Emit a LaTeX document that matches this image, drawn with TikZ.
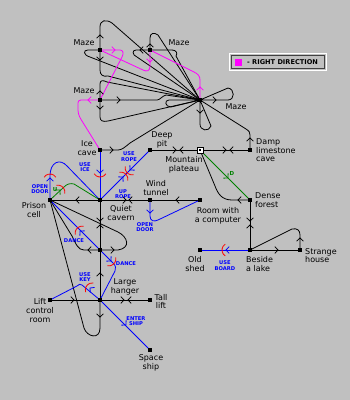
\documentclass[tikz,border=0pt]{standalone}
\usepackage{fontspec}
\setmainfont{DejaVu Sans}
\pgfdeclarelayer{bgl}
\pgfdeclarelayer{back}
\pgfsetlayers{bgl,back,main}
\definecolor{bg}{RGB}{192,192,192}
\definecolor{mag}{RGB}{255,0,255}
\definecolor{blu}{RGB}{0,0,255}
\definecolor{grn}{RGB}{0,128,0}
\definecolor{rd}{RGB}{255,0,0}
\tikzset{
  room/.style={rectangle,fill=black,draw=none,minimum size=3.2pt,inner sep=0pt,outer sep=0pt},
  mtnbox/.style={rectangle,fill=white,draw=black,line width=0.9pt,minimum size=6pt,inner sep=0pt,outer sep=0pt},
  lbl/.style={font=\fontsize{8}{8.6}\selectfont,align=center,inner sep=0pt,text=black},
  blbl/.style={font=\bfseries\fontsize{5.2}{5.6}\selectfont,align=center,inner sep=0pt,text=blu},
  glbl/.style={font=\bfseries\fontsize{5.5}{6}\selectfont,inner sep=0pt,text=grn},
  edge/.style={draw=black,line width=0.8pt},
  bedge/.style={draw=blu,line width=0.8pt},
  medge/.style={draw=mag,line width=0.8pt},
  gedge/.style={draw=grn,line width=0.8pt},
  chev/.pic={\draw[line width=0.8pt] (-3.2,-3.4) -- (0,0) -- (-3.2,3.4);},
  door/.pic={\draw[rd,line width=0.8pt] (-3,0) ++(-58:7) arc[start angle=-58,end angle=58,radius=7];}
}
\begin{document}
\begin{tikzpicture}[x=1pt,y=-1pt]
\begin{pgfonlayer}{bgl}
\fill[bg] (0,0) rectangle (350,400);
\end{pgfonlayer}
\useasboundingbox (0,0) rectangle (350,400);

% rooms
\node[room] (m1) at (100,50) {};
\node[room] (m2) at (150,50) {};
\node[room] (m3) at (100,100) {};
\node[room,minimum size=4.5pt] (hub) at (200,100) {};
\node[room] (ice) at (100,150) {};
\node[room] (deep) at (150,150) {};
\node[mtnbox] (mtn) at (200,150) {};
\node[room,minimum size=2pt] (mtndot) at (200,150) {};
\node[room] (damp) at (250,150) {};
\node[room] (prison) at (50,200) {};
\node[room] (quiet) at (100,200) {};
\node[room] (wind) at (150,200) {};
\node[room] (room) at (200,200) {};
\node[room] (dense) at (250,200) {};
\node[room] (n250) at (100,250) {};
\node[room] (shed) at (200,250) {};
\node[room] (lake) at (250,250) {};
\node[room] (house) at (300,250) {};
\node[room] (lift) at (50,300) {};
\node[room] (hangar) at (100,300) {};
\node[room] (tall) at (150,300) {};
\node[room] (ship) at (150,350) {};

\begin{pgfonlayer}{back}
% ---- maze
\draw[edge] (m1.center) -- (100,27) .. controls (100,20) and (106,19) .. (112,23) -- (hub.center);
\draw[edge] (m1.center) -- (100,70) .. controls (100,75) and (103,77) .. (108,76) -- (hub.center);
\draw[edge] (m1.center) -- (88,50) .. controls (83,50) and (83,55) .. (90,57) -- (hub.center);
\draw[edge] (m2.center) -- (150,38) .. controls (150,33) and (154,32) .. (158,35) -- (hub.center);
\draw[edge] (m2.center) -- (136,50) .. controls (132,50) and (132,55) .. (137,57) -- (hub.center);
\draw[edge] (m2.center) -- (172,50) .. controls (176,50) and (178,53) .. (176,56) -- (hub.center);
\draw[edge] (m3.center) -- (100,84) .. controls (100,80) and (103,80) .. (107,82) -- (hub.center);
\draw[edge] (m3.center) -- (100,117) .. controls (100,121) and (103,122) .. (108,121) -- (hub.center);
\draw[edge] (m3.center) -- (157,100) .. controls (160,100) and (162,96) .. (166,95) -- (hub.center);
\draw[edge] (hub.center) -- (228,100) .. controls (235,100) and (235,89) .. (228,88) -- (hub.center);
\draw[edge] (hub.center) -- (200,124) .. controls (200,131) and (209,132) .. (211,126) -- (hub.center);
\draw[edge] (hub.center) -- (169,100) .. controls (164,100) and (165,107) .. (171,107) -- (hub.center);
\draw[edge] (damp.center) -- (250,135) .. controls (250,132) and (249,131) .. (246,129) -- (hub.center);
\draw[edge] (ice.center) -- (118,150) .. controls (122,150) and (125,147) .. (130,143) -- (hub.center);
% magenta right direction
\draw[medge] (hub.center) -- (200,80) .. controls (200,76) and (198,74) .. (194,72) -- (m2.center);
\draw[medge] (m2.center) -- (150,66) .. controls (150,71) and (147,72) .. (143,70) -- (m1.center);
\draw[medge] (m1.center) -- (120,50) .. controls (123,50) and (124,53) .. (122,57) -- (m3.center);
\draw[medge] (m3.center) -- (81,100) .. controls (77,100) and (78,104) .. (78,110) .. controls (78,114) and (80,118) .. (82,121) -- (ice.center);
% ---- caves
\draw[edge] (deep.center) -- (mtn.center);
\draw[edge] (mtn.center) -- (damp.center);
\draw[edge] (dense.center) -- (232,200) .. controls (222,200) and (218,194) .. (215,186) -- (mtn.center);
\draw[gedge] (mtn.center) -- (dense.center);
\draw[edge] (dense.center) -- (lake.center);
\draw[bedge] (lake.center) -- (shed.center);
\draw[edge] (lake.center) -- (house.center);
\draw[edge] (house.center) -- (300,235) .. controls (300,230) and (297,228) .. (292,229) -- (lake.center);
\draw[edge] (prison.center) -- (quiet.center);
\draw[edge] (quiet.center) -- (wind.center);
\draw[edge] (wind.center) -- (room.center);
\draw[bedge] (wind.center) -- (150,216) .. controls (150,221) and (154,222) .. (158,220) -- (room.center);
\draw[bedge] (ice.center) -- (quiet.center);
\draw[bedge] (quiet.center) -- (deep.center);
\draw[bedge] (prison.center) -- (50,176) .. controls (50,162) and (60,158) .. (67,166) -- (quiet.center);
\draw[gedge] (prison.center) -- (64,187) .. controls (67,184) and (70,183) .. (74,184) -- (quiet.center);
\draw[edge] (quiet.center) -- (n250.center);
\draw[edge] (n250.center) -- (hangar.center);
\draw[edge] (prison.center) -- (72,236) .. controls (76,244) and (78,250) .. (84,250) -- (n250.center);
\draw[edge] (prison.center) -- (118,232) .. controls (128,237) and (131,248) .. (118,250) -- (n250.center);
\draw[edge] (prison.center) -- (84,328) .. controls (87,337) and (100,340) .. (100,328) -- (hangar.center);
\draw[bedge] (prison.center) -- (113,263) .. controls (116,266) and (116,268) .. (115,271) -- (hangar.center);
\draw[edge] (lift.center) -- (hangar.center);
\draw[edge] (hangar.center) -- (tall.center);
\draw[bedge] (hangar.center) -- (82,285) .. controls (80,284) and (79,284) .. (77,286) -- (lift.center);
\draw[bedge] (hangar.center) -- (ship.center);
\end{pgfonlayer}

% ---- direction marks
\pic[rotate=90] at (100,35) {chev};
\pic[rotate=-90] at (100,60) {chev};
\pic[mag] at (115,50) {chev};
\pic[mag,rotate=-90] at (150,62) {chev};
\pic[rotate=90] at (150,44) {chev};
\pic[rotate=180] at (140,50) {chev};
\pic[rotate=90] at (100,91) {chev};
\pic[rotate=-90] at (100,109) {chev};
\pic at (120,100) {chev};
\pic[mag,rotate=180] at (88,100) {chev};
\pic[mag,rotate=90] at (200,87) {chev};
\pic at (216,100) {chev};
\pic[rotate=-90] at (200,113) {chev};
\pic[rotate=90] at (250,138) {chev};
\pic at (113,150) {chev};
\pic at (176,150) {chev};
\pic[rotate=180] at (180,150) {chev};
\pic at (226,150) {chev};
\pic[rotate=180] at (230,150) {chev};
\pic[rotate=180] at (238,200) {chev};
\pic[grn,rotate=-45] at (228,178) {chev};
\pic[rotate=-90] at (250,221) {chev};
\pic[rotate=90] at (250,225) {chev};
\pic[blu,rotate=180] at (226,250) {chev};
\pic at (278,250) {chev};
\pic[rotate=90] at (300,238) {chev};
\pic[rotate=180] at (76,200) {chev};
\pic at (126,200) {chev};
\pic[rotate=180] at (129,200) {chev};
\pic[rotate=180] at (176,200) {chev};
\pic[blu,rotate=-90] at (150,213) {chev};
\pic[blu,rotate=-90] at (100,173) {chev};
\pic[blu,rotate=45] at (123,177) {chev};
\pic[blu,rotate=-135] at (130,170) {chev};
\pic[blu,rotate=90] at (50,178) {chev};
\pic[grn,rotate=45] at (60,190) {chev};
\pic[rotate=-90] at (100,221) {chev};
\pic[rotate=90] at (100,225) {chev};
\pic[rotate=180] at (88,250) {chev};
\pic at (114,250) {chev};
\pic[rotate=90] at (100,273) {chev};
\pic[rotate=-90] at (100,317) {chev};
\pic[blu,rotate=135] at (80,231) {chev};
\pic[blu,rotate=-45] at (111,261) {chev};
\pic at (74,300) {chev};
\pic at (124,300) {chev};
\pic[rotate=180] at (128,300) {chev};
\pic[blu,rotate=140] at (90,288) {chev};
\pic[blu,rotate=-45] at (126,325) {chev};

% ---- doors
\pic[rotate=-90] at (100,173) {door};
\pic[rotate=45] at (123,177) {door};
\pic[rotate=-135] at (130,170) {door};
\pic[rotate=90] at (50,178) {door};
\pic[rotate=45] at (60,190) {door};
\pic[rotate=135] at (80,231) {door};
\pic[rotate=-45] at (111,261) {door};
\pic[rotate=140] at (90,288) {door};
\pic[rotate=180] at (226,250) {door};

% ---- labels
\node[lbl] (tm1) at (84,43) {Maze};
\node[lbl] (tm2) at (179,43) {Maze};
\node[lbl] (tm3) at (84,91) {Maze};
\node[lbl] (tm4) at (236,107) {Maze};
\node[lbl] (tice) at (87,148) {Ice\\cave};
\node[lbl] (tdeep) at (162,140) {Deep\\pit};
\node[lbl] (tmtn) at (184,164.5) {Mountain\\plateau};
\node[lbl,align=left,anchor=west] (tdamp) at (256,150.5) {Damp\\limestone\\cave};
\node[lbl,align=left,anchor=west] (tdense) at (255,200) {Dense\\forest};
\node[lbl] (troom) at (218,215.5) {Room with\\a computer};
\node[lbl,align=left,anchor=west] (thouse) at (305,255.5) {Strange\\house};
\node[lbl,align=left,anchor=west] (tlake) at (246,264) {Beside\\a lake};
\node[lbl] (tshed) at (195,264) {Old\\shed};
\node[lbl] (twind) at (156,188) {Wind\\tunnel};
\node[lbl] (tquiet) at (121,213) {Quiet\\cavern};
\node[lbl] (tprison) at (34,210) {Prison\\cell};
\node[lbl] (thangar) at (125,287) {Large\\hanger};
\node[lbl] (ttall) at (161,301.5) {Tall\\lift};
\node[lbl] (tlift) at (40,310.5) {Lift\\control\\room};
\node[lbl] (tship) at (151,363) {Space\\ship};

\node[blbl] (bopen1) at (40,189) {OPEN\\DOOR};
\node[blbl] (bice) at (85,167) {USE\\ICE};
\node[blbl] (buserope) at (129,156.5) {USE\\ROPE};
\node[blbl] (buprope) at (123,194) {UP\\ROPE};
\node[blbl] (bdance1) at (74,240.5) {DANCE};
\node[blbl] (bdance2) at (126,264) {DANCE};
\node[blbl] (bopen2) at (145,227) {OPEN\\DOOR};
\node[blbl] (bkey) at (85,277) {USE\\KEY};
\node[blbl] (bship) at (136,321) {ENTER\\SHIP};
\node[blbl] (bboard) at (225,265.5) {USE\\BOARD};
\node[glbl] (gu) at (55,190) {U};
\node[glbl] (gd) at (232,173) {D};

% ---- legend
\draw[white,line width=1pt] (229.5,53.5) rectangle (326.5,70.5);
\draw[black!75,line width=1pt] (231.5,55.5) rectangle (324.5,68.5);
\fill[mag] (235,59) rectangle (242,66);
\node[font=\bfseries\fontsize{6.6}{7}\selectfont,inner sep=0pt,anchor=west] (legtext) at (247,62.5) {- RIGHT DIRECTION};
\end{tikzpicture}
\end{document}
